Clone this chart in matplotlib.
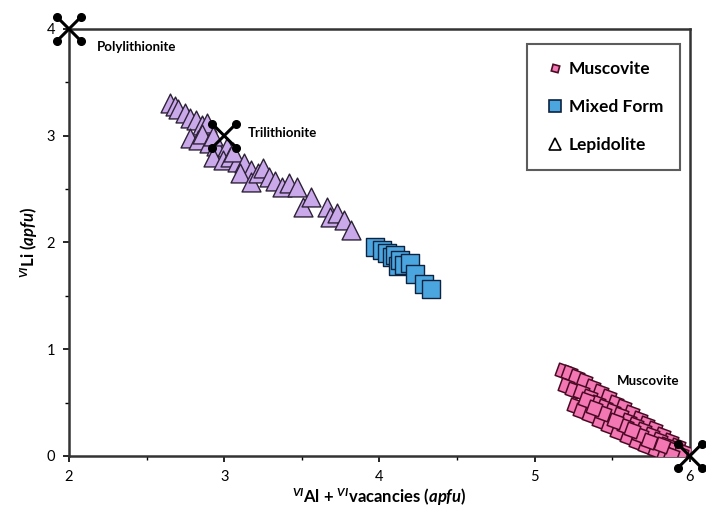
import matplotlib.pyplot as plt
from matplotlib.lines import Line2D

plt.rcParams['font.family'] = ['Lato', 'DejaVu Sans']
plt.rcParams['mathtext.fontset'] = 'custom'
plt.rcParams['mathtext.rm'] = 'Lato:bold'
plt.rcParams['mathtext.it'] = 'Lato:bold:italic'
plt.rcParams['mathtext.bf'] = 'Lato:bold'

# lepidolite (triangles)
lep_x = [2.65, 2.68, 2.70, 2.75, 2.78, 2.82, 2.86, 2.89, 2.78, 2.83, 2.86, 2.90,
         2.95, 2.93, 3.02, 2.93, 2.99, 3.04, 3.08, 3.06, 3.13, 3.17, 3.10, 3.17,
         3.22, 3.25, 3.29, 3.33, 3.37, 3.42, 3.47, 3.51, 3.56, 3.66, 3.68, 3.73,
         3.77, 3.82]
lep_y = [3.31, 3.28, 3.25, 3.21, 3.17, 3.15, 3.10, 3.12, 2.98, 2.96, 3.02, 2.93,
         2.90, 3.00, 2.89, 2.80, 2.77, 2.80, 2.75, 2.85, 2.74, 2.68, 2.65, 2.57,
         2.65, 2.70, 2.61, 2.58, 2.52, 2.56, 2.52, 2.33, 2.43, 2.33, 2.24, 2.28,
         2.21, 2.12]

# mixed form (squares)
mix_x = [3.97, 4.02, 4.05, 4.08, 4.10, 4.12, 4.13, 4.16, 4.20, 4.23, 4.29, 4.33]
mix_y = [1.96, 1.93, 1.90, 1.86, 1.88, 1.78, 1.84, 1.79, 1.81, 1.70, 1.61, 1.56]

# muscovite
mus_x = [5.18, 5.22, 5.27, 5.32, 5.37, 5.42, 5.47, 5.52, 5.57, 5.62, 5.67, 5.72,
         5.77, 5.82, 5.87, 5.92, 5.96,
         5.20, 5.25, 5.30, 5.35, 5.40, 5.45, 5.50, 5.55, 5.60, 5.65, 5.70, 5.75,
         5.80, 5.85, 5.90, 5.94,
         5.26, 5.30, 5.36, 5.42, 5.48, 5.54, 5.60, 5.66, 5.72, 5.78, 5.84, 5.88,
         5.33, 5.44, 5.58, 5.68, 5.63, 5.52, 5.38, 5.74, 5.82]
mus_y = [0.80, 0.78, 0.74, 0.70, 0.65, 0.60, 0.55, 0.50, 0.46, 0.40, 0.35, 0.30,
         0.25, 0.20, 0.14, 0.09, 0.04,
         0.66, 0.62, 0.60, 0.55, 0.50, 0.46, 0.42, 0.38, 0.33, 0.29, 0.24, 0.20,
         0.15, 0.10, 0.06, 0.02,
         0.47, 0.42, 0.38, 0.33, 0.28, 0.22, 0.18, 0.13, 0.09, 0.06, 0.03, 0.01,
         0.52, 0.40, 0.28, 0.20, 0.24, 0.33, 0.45, 0.14, 0.10]

# end members
em_names = ['Polylithionite', 'Trilithionite', 'Muscovite']
em_x = [2, 3, 6]
em_y = [4, 3, 0]
lbl_x = [2.18, 3.15, 5.53]
lbl_y = [3.83, 3.03, 0.70]

fig = plt.figure(figsize=(7.06, 5.08), dpi=100)
ax = fig.add_axes([0.0977, 0.1024, 0.8793, 0.8406])

ax.scatter(lep_x, lep_y, marker='^', s=185, c='#c9a9e9', edgecolors='#2e2238',
           linewidths=1.0, zorder=3)
ax.scatter(mix_x, mix_y, marker='s', s=170, c='#4ba6e0', edgecolors='#0d2340',
           linewidths=1.0, zorder=3)
ax.scatter(mus_x, mus_y, marker=(4, 0, 25), s=175, c='#f277b3', edgecolors='#4a0a24',
           linewidths=1.1, zorder=3)

# end-member crosses with dotted ends
dx = 12 / 155.25
dy = 12 / 106.75
for x, y in zip(em_x, em_y):
    for sx in (-1, 1):
        ax.plot([x - sx * dx, x + sx * dx], [y - dy, y + dy], color='black', lw=2.2,
                marker='o', ms=5.5, clip_on=False, zorder=5)

for name, x, y in zip(em_names, lbl_x, lbl_y):
    ax.text(x, y, name, fontsize=9.5, fontweight='bold', va='center', ha='left', zorder=6)

ax.set_xlim(2, 6)
ax.set_ylim(0, 4)
ax.set_xticks([2, 3, 4, 5, 6])
ax.set_yticks([0, 1, 2, 3, 4])
ax.set_xticks([2.5, 3.5, 4.5, 5.5], minor=True)
ax.set_yticks([0.5, 1.5, 2.5, 3.5], minor=True)
ax.tick_params(which='major', direction='out', length=4, width=1.2, labelsize=10.5, pad=6)
ax.tick_params(which='minor', direction='out', length=3, width=1.0)
for s in ax.spines.values():
    s.set_linewidth(1.8)
    s.set_color('#333333')

ax.set_xlabel(r'$^{VI}$Al + $^{VI}$vacancies ($apfu$)', fontsize=12, fontweight='bold', labelpad=1)
ax.set_ylabel(r'$^{VI}$Li ($apfu$)', fontsize=12, fontweight='bold')
ax.yaxis.set_label_coords(-0.046, 0.5)

handles = [
    Line2D([], [], ls='none', marker=(4, 0, 30), ms=7, mfc='#f277b3', mec='#4a0a24', mew=1.2),
    Line2D([], [], ls='none', marker='s', ms=8, mfc='#4ba6e0', mec='#0d2340', mew=1.2),
    Line2D([], [], ls='none', marker='^', ms=8, mfc='white', mec='black', mew=1.2),
]
leg = ax.legend(handles, ['Muscovite', 'Mixed Form', 'Lepidolite'], loc='upper right',
                bbox_to_anchor=(0.985, 0.965), borderaxespad=0, fancybox=False,
                frameon=True, labelspacing=1.25, handletextpad=0.2,
                borderpad=1.0, handlelength=1.2, prop={'weight': 'bold', 'size': 12.5})
leg.get_frame().set_edgecolor('#333333')
leg.get_frame().set_linewidth(1.5)

fig.savefig('out.png', dpi=100)
